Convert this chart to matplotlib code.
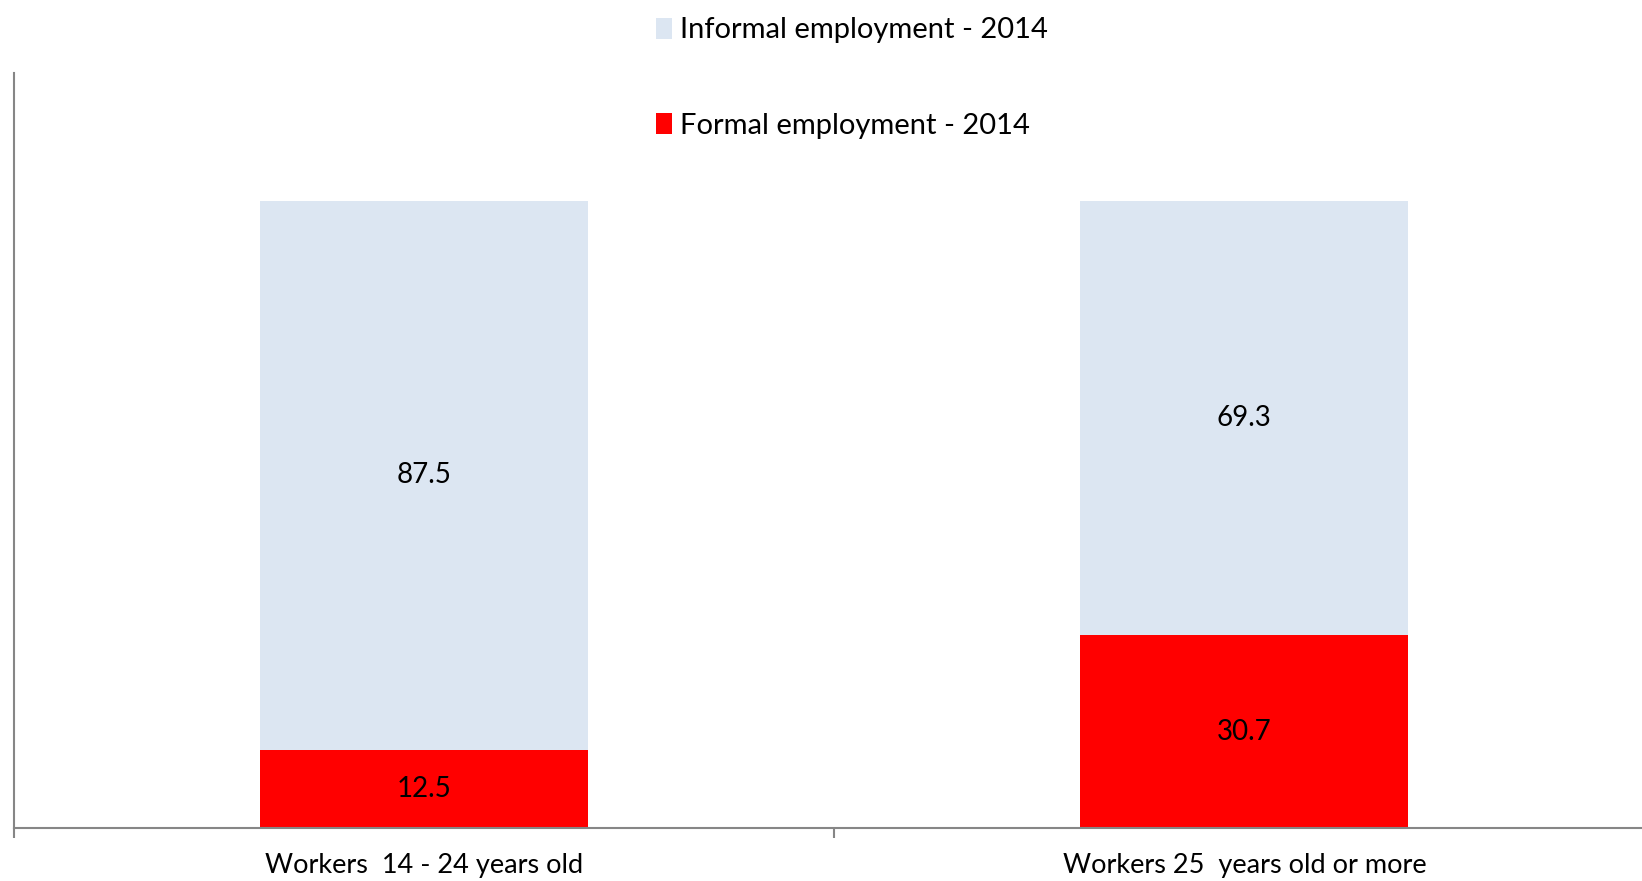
import matplotlib
matplotlib.use("Agg")
import matplotlib.pyplot as plt
import numpy as np

plt.rcParams['font.family'] = ['Lato', 'DejaVu Sans']

categories = ["Workers  14 - 24 years old", "Workers 25  years old or more"]
formal = [12.5, 30.7]
informal = [87.5, 69.3]
series_names = ["Informal employment - 2014", "Formal employment - 2014"]

light_blue = "#DCE6F2"
red = "#FF0000"
axis_grey = "#868686"

fig = plt.figure(figsize=(16.42, 8.81), dpi=100)
ax = fig.add_axes([13.6 / 1642, 53 / 881, 1641 / 1642, 755 / 881])

x = np.arange(len(categories))
w = 0.4
b1 = ax.bar(x, formal, w, color=red, label=series_names[1], zorder=2)
b2 = ax.bar(x, informal, w, bottom=formal, color=light_blue, label=series_names[0], zorder=2)

# value labels in the middle of each segment
for i in range(len(categories)):
    ax.text(x[i], formal[i] / 2, f"{formal[i]:.1f}", ha="center", va="center", fontsize=20)
    ax.text(x[i], formal[i] + informal[i] / 2, f"{informal[i]:.1f}", ha="center", va="center", fontsize=20)

ax.set_xlim(-0.5, 1.5)
ax.set_ylim(0, 120.4)

for s in ["top", "right"]:
    ax.spines[s].set_visible(False)
for s in ["left", "bottom"]:
    ax.spines[s].set_color(axis_grey)
    ax.spines[s].set_linewidth(1.5)
    ax.spines[s].set_zorder(3)

ax.set_yticks([])
ax.set_xticks([-0.5, 0.5, 1.5])
ax.set_xticklabels([])
ax.tick_params(axis="x", which="major", direction="out", length=7, width=1.5, color=axis_grey)
ax.set_xticks(x, minor=True)
ax.set_xticklabels(categories, minor=True, fontsize=19.5)
ax.tick_params(axis="x", which="minor", length=0, pad=18)

leg = fig.legend([b2, b1], series_names, loc="center", bbox_to_anchor=(852 / 1642, 1 - 78 / 881),
                 frameon=False, fontsize=21, handlelength=0.55, handleheight=0.75,
                 handletextpad=0.25, labelspacing=2.37, borderpad=0, alignment="left")

fig.savefig("out.png", dpi=100)
